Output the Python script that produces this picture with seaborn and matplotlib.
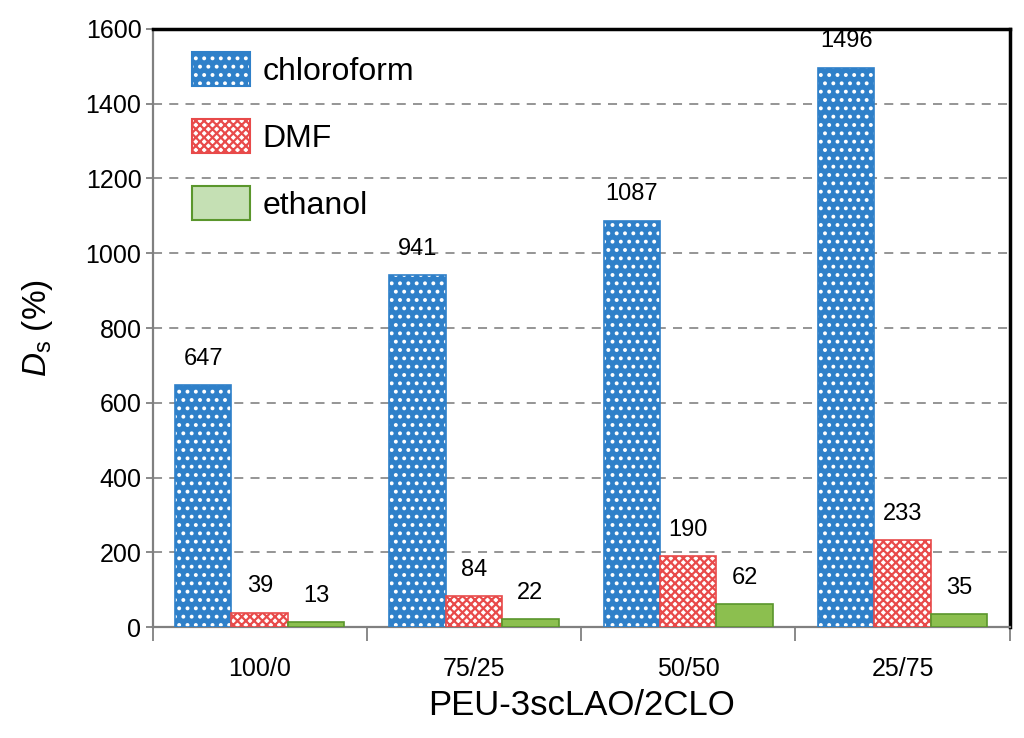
import matplotlib
matplotlib.use("Agg")
import matplotlib.pyplot as plt
from matplotlib.patches import Patch
import seaborn as sns
import pandas as pd

# data
groups = ["100/0", "75/25", "50/50", "25/75"]
solvents = ["chloroform", "DMF", "ethanol"]
chloroform = [647, 941, 1087, 1496]
dmf = [39, 84, 190, 233]
ethanol = [13, 22, 62, 35]

df = pd.DataFrame({
    "group": groups * 3,
    "solvent": ["chloroform"] * 4 + ["DMF"] * 4 + ["ethanol"] * 4,
    "value": chloroform + dmf + ethanol,
})

sns.set_style("white")
plt.rcParams["font.family"] = ["Liberation Sans", "DejaVu Sans"]
plt.rcParams["mathtext.fontset"] = "custom"
plt.rcParams["mathtext.rm"] = "Liberation Sans"
plt.rcParams["mathtext.it"] = "Liberation Sans:italic"
plt.rcParams["hatch.linewidth"] = 1.6
plt.rcParams["text.color"] = "black"
plt.rcParams["axes.labelcolor"] = "black"

fig = plt.figure(figsize=(10.24, 7.38), dpi=100)
ax = fig.add_axes([0.149, 0.150, 0.837, 0.811])

face = {"chloroform": "#2f80c9", "DMF": "white", "ethanol": "#8cbf4f"}
edge = {"chloroform": "#2f80c9", "DMF": "#e84a4a", "ethanol": "#5a962c"}
hatch = {"chloroform": "..", "DMF": "xxxx", "ethanol": None}
hatch_col = {"chloroform": "white", "DMF": "#e84a4a", "ethanol": "#5a962c"}

sns.barplot(data=df, x="group", y="value", hue="solvent", order=groups,
            hue_order=solvents, palette=face, width=0.79, gap=0,
            saturation=1, ax=ax, zorder=3, legend=False)

for cont, s in zip(ax.containers, solvents):
    for bar in cont:
        bar.set_edgecolor(edge[s])
        bar.set_linewidth(1.2)
        if hatch[s]:
            bar.set_hatch(hatch[s])
        bar._hatch_color = matplotlib.colors.to_rgba(hatch_col[s])
    ax.bar_label(cont, padding=11, fontsize=17, color="black")

ax.set_ylim(0, 1600)
ax.set_yticks(range(0, 1601, 200))
ax.set_xlim(-0.5, 3.5)
ax.yaxis.grid(True, linestyle=(0, (5, 4)), color="#8c8c8c", linewidth=1.3, zorder=0)
ax.set_axisbelow(True)

ax.tick_params(axis="y", labelsize=18, left=True, length=5, pad=3,
               color="#808080", width=1.3, labelcolor="black")
ax.tick_params(axis="x", labelsize=18, bottom=False, pad=18, labelcolor="black")
ax.set_xticks([-0.5, 0.5, 1.5, 2.5, 3.5], minor=True)
ax.tick_params(axis="x", which="minor", bottom=True, length=10, color="#808080", width=1.3)

for side in ["left", "bottom"]:
    ax.spines[side].set_color("#808080")
    ax.spines[side].set_linewidth(1.6)
for side in ["top", "right"]:
    ax.spines[side].set_color("black")
    ax.spines[side].set_linewidth(2.5)

ax.set_xlabel("PEU-3scLAO/2CLO", fontsize=25, labelpad=6)
ax.set_ylabel(r"$\mathit{D}_\mathregular{s}$ (%)", fontsize=24, labelpad=22)

# legend patches (ethanol swatch is paler in the reference)
legend_face = {"chloroform": "#2f80c9", "DMF": "white", "ethanol": "#c5e0b4"}
handles = []
for s in solvents:
    p = Patch(facecolor=legend_face[s], edgecolor=edge[s], linewidth=1.5,
              hatch=hatch[s], label=s)
    p._hatch_color = matplotlib.colors.to_rgba(hatch_col[s])
    handles.append(p)
ax.legend(handles=handles, loc="upper left", bbox_to_anchor=(0.013, 1.01),
          frameon=False, fontsize=23, handlelength=1.8, handleheight=1.3,
          labelspacing=1.0, handletextpad=0.4)

fig.savefig("out.png", dpi=100)
